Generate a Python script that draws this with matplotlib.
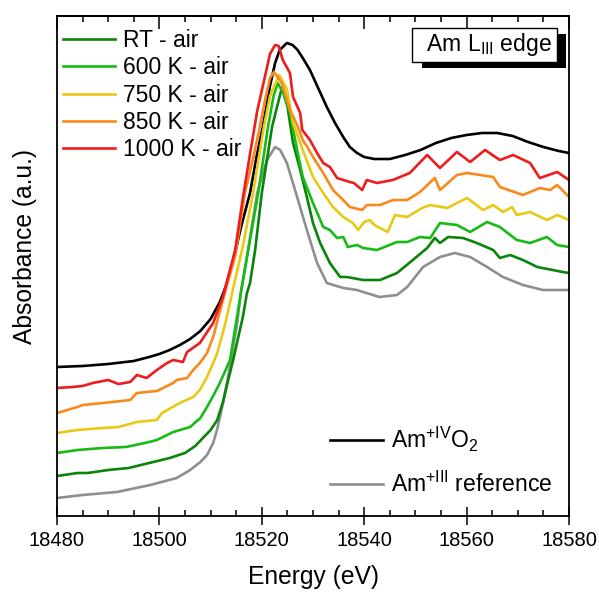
import matplotlib
matplotlib.use("Agg")
import matplotlib.pyplot as plt
import numpy as np
from matplotlib.lines import Line2D
from matplotlib import patheffects as pe

plt.rcParams['font.family'] = ['Liberation Sans', 'DejaVu Sans']
plt.rcParams['mathtext.fontset'] = 'custom'
plt.rcParams['mathtext.rm'] = 'Liberation Sans'
plt.rcParams['mathtext.it'] = 'Liberation Sans:italic'
plt.rcParams['mathtext.default'] = 'regular'

E0 = 18480

# ---- data (energy offset from 18480 eV, normalised absorbance, arbitrary offsets) ----
amo2_e = [0, 5, 10, 15, 18, 20, 22, 24, 26, 28, 30, 31.8, 33.0, 34.4, 36.0, 37.7, 39.0, 40.2, 41.6,
          42.6, 43.5, 44.9, 46.0, 47.0, 48.0, 49.4, 51.0, 52.7, 54.3, 55.9, 57.2, 58.6, 60, 62, 65, 68,
          71, 74, 77, 80, 83, 86, 89, 92, 95, 98, 100]
amo2_a = [1.49, 1.50, 1.52, 1.55, 1.59, 1.62, 1.66, 1.71, 1.77, 1.85, 1.97, 2.14, 2.30, 2.55, 2.90, 3.23,
          3.60, 3.89, 4.30, 4.53, 4.66, 4.73, 4.71, 4.66, 4.58, 4.46, 4.28, 4.09, 3.93, 3.79, 3.69, 3.63,
          3.59, 3.57, 3.57, 3.61, 3.66, 3.73, 3.78, 3.81, 3.83, 3.83, 3.80, 3.74, 3.69, 3.65, 3.63]

k1000_e = [0, 3, 5, 7, 10, 12, 14.3, 15.6, 17.5, 19.5, 21.5, 22.7, 24.6, 25.4, 27.9, 30.5, 32.4, 34.8,
           36.3, 37.7, 39.1, 40.2, 41.6, 42.6, 43.3, 44.1, 45.5, 46.1, 47.5, 47.9, 49.4, 50.8, 52.0,
           53.3, 54.7, 57.2, 58.0, 59.6, 60.5, 62.5, 65.6, 68.9, 72.3, 74.8, 78.1, 80.7, 83.6, 86.5,
           89.1, 92.4, 94.3, 97.7, 100]
k1000_a = [1.28, 1.29, 1.30, 1.33, 1.36, 1.32, 1.34, 1.41, 1.38, 1.46, 1.53, 1.56, 1.54, 1.64, 1.73,
           1.93, 2.19, 2.66, 3.18, 3.62, 4.05, 4.30, 4.62, 4.71, 4.70, 4.56, 4.43, 4.19, 4.03, 3.86,
           3.76, 3.63, 3.53, 3.49, 3.38, 3.34, 3.33, 3.26, 3.36, 3.33, 3.36, 3.43, 3.61, 3.48, 3.64,
           3.54, 3.66, 3.56, 3.61, 3.53, 3.38, 3.44, 3.36]

k850_e = [0, 4, 5, 9, 14.3, 15.6, 19.5, 22.7, 23.4, 25.4, 26.6, 27.9, 29.3, 30.5, 32.4, 34.8, 36.7,
          38.5, 39.6, 40.6, 41.6, 42.4, 43.9, 45.5, 46.9, 48.0, 49.0, 50.0, 52.0, 53.9, 55.9, 57.2,
          59.6, 60.5, 63.1, 65.6, 68.4, 70.9, 73.8, 74.8, 78.1, 80.1, 85.2, 86.5, 91.0, 94.3, 96.3,
          97.7, 100]
k850_a = [1.03, 1.09, 1.11, 1.13, 1.16, 1.23, 1.25, 1.33, 1.36, 1.38, 1.46, 1.53, 1.63, 1.79, 2.16,
          2.60, 3.23, 3.62, 3.89, 4.15, 4.38, 4.44, 4.33, 4.06, 3.91, 3.76, 3.68, 3.59, 3.43, 3.26,
          3.16, 3.09, 3.06, 3.11, 3.11, 3.16, 3.16, 3.24, 3.38, 3.26, 3.41, 3.43, 3.39, 3.29, 3.21,
          3.28, 3.26, 3.31, 3.19]

k750_e = [0, 4, 9, 12, 15.6, 19.5, 20.5, 24, 26.6, 27.9, 29.3, 30.5, 31.3, 32.9, 34.2, 36.3, 38.3,
          40.4, 41.6, 43.4, 44.9, 46.1, 48.0, 50.0, 52.0, 53.9, 55.9, 57.8, 58.8, 60.0, 61.1, 62.0,
          64.6, 66.0, 68.4, 71.3, 72.9, 76.2, 80.1, 83.2, 85.2, 87.1, 88.9, 89.8, 92.4, 95.7, 97.7, 100]
k750_a = [0.83, 0.86, 0.88, 0.89, 0.94, 0.96, 1.03, 1.13, 1.19, 1.26, 1.39, 1.53, 1.63, 1.93, 2.23,
          2.70, 3.23, 3.89, 4.20, 4.41, 4.27, 3.93, 3.66, 3.39, 3.23, 3.09, 2.99, 2.93, 2.86, 2.94,
          2.96, 2.91, 2.84, 3.01, 2.99, 3.08, 3.11, 3.08, 3.18, 3.06, 3.11, 3.04, 3.09, 3.01, 3.04,
          2.96, 3.01, 2.96]

k600_e = [0, 4, 9, 13.5, 18, 19.5, 22.7, 26.0, 28.0, 29.3, 30.6, 31.8, 33.8, 35.9, 37.5, 39.3, 41.2, 42.3,
          43.1, 44.3, 45.5, 46.9, 48.0, 50.0, 52.0, 53.3, 54.7, 55.9, 56.8, 58.6, 59.8, 62.5, 66.4, 68.4,
          70.9, 72.9, 74.8, 78.1, 80.7, 84.0, 86.5, 89.8, 92.4, 95.7, 97.7, 100]
k600_a = [0.63, 0.66, 0.68, 0.69, 0.74, 0.76, 0.84, 0.89, 0.98, 1.09, 1.21, 1.33, 1.56, 2.23, 2.70, 3.23,
          3.89, 4.20, 4.33, 4.22, 4.03, 3.66, 3.39, 3.13, 2.89, 2.86, 2.78, 2.79, 2.69, 2.71, 2.68, 2.66,
          2.74, 2.74, 2.79, 2.78, 2.93, 2.91, 2.84, 2.94, 2.89, 2.76, 2.73, 2.79, 2.71, 2.69]

rt_e = [0, 4, 6, 10, 14, 18, 22, 25, 27, 28.5, 30, 31.3, 32.4, 34.4, 36.3, 37.1, 37.7, 38.7, 40.0, 42.0,
        43.9, 45.0, 46.1, 47.5, 48.8, 50.0, 51.4, 53.3, 55.3, 56.6, 59.8, 63.1, 66.4, 69.5, 72.3, 73.8,
        74.8, 76.4, 79.3, 82.0, 85.2, 86.5, 88.5, 91.0, 93.8, 98.8, 100]
rt_a = [0.40, 0.43, 0.43, 0.46, 0.48, 0.53, 0.58, 0.63, 0.70, 0.78, 0.86, 0.96, 1.14, 1.56, 1.99, 2.23,
        2.33, 2.66, 3.23, 3.89, 4.28, 4.10, 3.73, 3.46, 3.19, 2.93, 2.73, 2.53, 2.39, 2.39, 2.36, 2.36,
        2.43, 2.56, 2.68, 2.78, 2.73, 2.79, 2.78, 2.73, 2.66, 2.58, 2.61, 2.56, 2.49, 2.44, 2.43]

am3_e = [0, 5, 11.7, 18.2, 23.4, 26.0, 28.0, 29.3, 30.5, 31.3, 32.4, 33.8, 35.2, 35.9, 37.3, 39.1,
         41.0, 42.6, 43.6, 44.9, 46.9, 48.8, 50.8, 52.7, 55.9, 58.6, 59.8, 63.0, 66.4, 68.4, 71.5,
         74.8, 77.7, 80.7, 84.0, 87.1, 91.0, 94.9, 100]
am3_a = [0.18, 0.21, 0.24, 0.31, 0.38, 0.46, 0.54, 0.61, 0.73, 0.87, 1.12, 1.50, 1.93, 2.23, 2.66,
         3.23, 3.56, 3.69, 3.66, 3.53, 3.19, 2.86, 2.53, 2.33, 2.28, 2.26, 2.24, 2.19, 2.21, 2.29,
         2.49, 2.59, 2.63, 2.59, 2.49, 2.39, 2.31, 2.26, 2.26]

sample_labels = ['RT - air', '600 K - air', '750 K - air', '850 K - air', '1000 K - air']
ref_labels = [r'Am$^{+IV}$O$_{2}$', r'Am$^{+III}$ reference']

c_rt = '#0a840a'
c_600 = '#16bb16'
c_750 = '#e9c914'
c_850 = '#f98a1a'
c_1000 = '#ee1c1c'
c_amo2 = '#000000'
c_am3 = '#8f8f8f'
lw = 1.9

fig = plt.figure(figsize=(5.99, 5.97), dpi=100)
ax = fig.add_axes([57/599, 81/597, 512/599, 500/597])

def xs(e):
    return np.asarray(e) + E0

ax.plot(xs(am3_e), am3_a, color=c_am3, lw=lw)
ax.plot(xs(amo2_e), amo2_a, color=c_amo2, lw=lw)
ax.plot(xs(rt_e), rt_a, color=c_rt, lw=lw)
ax.plot(xs(k600_e), k600_a, color=c_600, lw=lw)
ax.plot(xs(k750_e), k750_a, color=c_750, lw=lw)
ax.plot(xs(k850_e), k850_a, color=c_850, lw=lw)
ax.plot(xs(k1000_e), k1000_a, color=c_1000, lw=lw)

ax.set_xlim(18480, 18580)
ax.set_ylim(0, 5.0)
ax.set_yticks([])
ax.set_xticks(np.arange(18480, 18581, 20))
ax.set_xticks(np.arange(18480, 18581, 5), minor=True)
ax.tick_params(axis='x', which='major', direction='inout', length=13, width=1.1, labelsize=14.5, pad=4)
ax.tick_params(axis='x', which='minor', direction='in', length=4, width=1.1)
for s in ax.spines.values():
    s.set_linewidth(1.3)

top = ax.secondary_xaxis('top')
top.set_xticks(np.arange(18480, 18581, 20))
top.set_xticks(np.arange(18480, 18581, 5), minor=True)
top.tick_params(which='major', direction='in', length=9, width=1.1, labeltop=False)
top.tick_params(which='minor', direction='in', length=4, width=1.1)
top.spines['top'].set_linewidth(1.3)

ax.set_xlabel('Energy (eV)', fontsize=17.7, labelpad=11)
ax.set_ylabel('Absorbance (a.u.)', fontsize=17.7)
ax.yaxis.set_label_coords(-0.040, 0.54)

h1 = [Line2D([], [], color=c, lw=lw) for c in [c_rt, c_600, c_750, c_850, c_1000]]
leg1 = ax.legend(h1, sample_labels, loc='upper left', bbox_to_anchor=(0.0117, 0.974), frameon=False,
                 fontsize=16.5, handlelength=2.25, handletextpad=0.35, labelspacing=0.19,
                 borderpad=0, borderaxespad=0)
ax.add_artist(leg1)
h2 = [Line2D([], [], color=c, lw=lw) for c in [c_amo2, c_am3]]
ax.legend(h2, ref_labels, loc='upper left', bbox_to_anchor=(0.533, 0.183), frameon=False,
          fontsize=16.5, handlelength=2.3, handletextpad=0.35, labelspacing=0.8,
          borderpad=0, borderaxespad=0)

t = ax.text(0.969, 0.969, '\u2002Am L$_{III}$ edge\u2002', transform=ax.transAxes, ha='right', va='top',
            fontsize=16.5,
            bbox=dict(boxstyle='square,pad=0.15', facecolor='white', edgecolor='black', linewidth=1.0,
                      path_effects=[pe.SimplePatchShadow(offset=(7, -4.5), shadow_rgbFace='black', alpha=1.0),
                                    pe.Normal()]))

fig.savefig('out.png', dpi=100)
